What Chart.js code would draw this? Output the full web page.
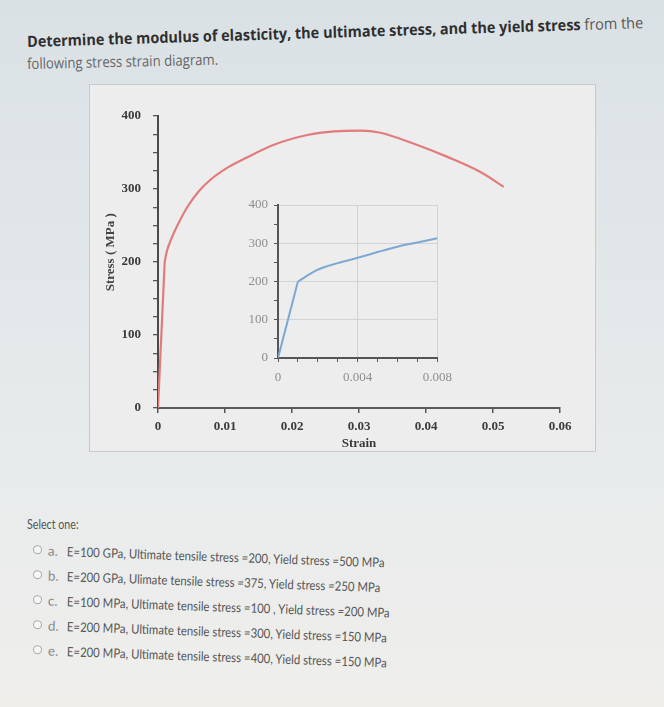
<!DOCTYPE html>
<html><head><meta charset="utf-8">
<script src="https://cdn.jsdelivr.net/npm/chart.js@4.4.1/dist/chart.umd.min.js"></script>
<style>
html,body{margin:0;padding:0;}
body{width:664px;height:707px;position:relative;overflow:hidden;
 background:linear-gradient(180deg,#dae1e5 0%,#e1e6e9 35%,#e9ecec 70%,#efeeeb 100%);
 font-family:"Open Sans","Noto Sans",sans-serif;}
.t{position:absolute;white-space:nowrap;transform-origin:0 50%;line-height:20px;height:20px;width:auto;}
#box{position:absolute;left:89px;top:84px;width:507px;height:368px;background:#ecedec;border:1px solid #c6caca;box-sizing:border-box;}
#main{position:absolute;left:89px;top:84px;}
#inset{position:absolute;left:240px;top:190px;}
.row{position:absolute;left:33px;width:620px;height:20px;line-height:20px;white-space:nowrap;transform-origin:0 50%;transform:rotate(2deg);font-family:Lato,"Open Sans",sans-serif;}
.radio{position:absolute;left:0;top:5px;width:7px;height:7px;border:1.5px solid #a6a8a8;border-radius:50%;background:#f6f6f6;}
.let{position:absolute;left:15px;top:0;color:#8a8a8a;font-size:13.5px;}
.txt{position:absolute;left:34px;top:0;color:#555;font-size:13px;display:inline-block;transform-origin:0 50%;}
</style></head><body>
<div class="t" id="l1" style="left:27px;top:31px;color:#555;font-size:15.5px;"><b style="color:#2f2f2f">Determine the modulus of elasticity, the ultimate stress, and the yield stress</b> from the</div>
<div class="t" id="l2" style="left:27px;top:53px;color:#666;font-size:15px;">following stress strain diagram.</div>
<div id="box"></div>
<canvas id="main" width="507" height="368"></canvas>
<canvas id="inset" width="220" height="200"></canvas>
<div class="t" id="sel" style="left:27px;top:514px;color:#555;font-size:14px;font-family:Lato,'Open Sans',sans-serif;">Select one:</div>
<div id="opts"></div>
<script>
// ---- data ----
const mainElasticStrain = [0, 0.001];
const mainElasticStress = [0, 200];
const mainPlasticStrain = [0.001, 0.0013, 0.002, 0.003, 0.0045, 0.006, 0.008, 0.0105, 0.013, 0.0174, 0.0223, 0.0263, 0.0303, 0.0332, 0.0382, 0.0432, 0.0482, 0.0516];
const mainPlasticStress = [200, 214, 232, 252, 277, 296, 314, 330, 342, 361, 374, 379, 380, 377, 362, 344, 323, 303];
const insetElasticStrain = [0, 0.001];
const insetElasticStress = [0, 200];
const insetPlasticStrain = [0.001, 0.002, 0.003, 0.004, 0.005, 0.006, 0.007, 0.008];
const insetPlasticStress = [200, 231, 248, 262, 277, 291, 302, 313];
const mainXLabels = ['0', '0.01', '0.02', '0.03', '0.04', '0.05', '0.06'];
const mainYLabels = ['0', '100', '200', '300', '400'];
const insetXLabels = ['0', '0.004', '0.008'];
const insetYLabels = ['0', '100', '200', '300', '400'];
const optionLetters = ['a.', 'b.', 'c.', 'd.', 'e.'];
const optionTexts = [
 'E=100 GPa, Ultimate tensile stress =200, Yield stress =500 MPa',
 'E=200 GPa, Ulimate tensile stress =375, Yield stress =250 MPa',
 'E=100 MPa, Ultimate tensile stress =100 , Yield stress =200 MPa',
 'E=200 MPa, Ultimate tensile stress =300, Yield stress =150 MPa',
 'E=200 MPa, Ultimate tensile stress =400, Yield stress =150 MPa'
];

const RED = '#e27b7d', BLUE = '#7ea8d2';
const pts = (xs, ys) => xs.map((x, i) => ({x, y: ys[i]}));
const serif = '"Liberation Serif","Times New Roman",serif';

// ---- main chart ----
new Chart(document.getElementById('main'), {
 type: 'scatter',
 data: {datasets: [
  {data: pts(mainElasticStrain, mainElasticStress), showLine: true, borderColor: RED, borderWidth: 2.2, pointRadius: 0, tension: 0},
  {data: pts(mainPlasticStrain, mainPlasticStress), showLine: true, borderColor: RED, borderWidth: 2.2, pointRadius: 0, cubicInterpolationMode: 'monotone'}
 ]},
 options: {
  responsive: false, animation: false, events: [],
  layout: {padding: {left: 0, right: 36, top: 32, bottom: 0}},
  plugins: {legend: {display: false}, tooltip: {enabled: false}},
  scales: {
   x: {type: 'linear', min: 0, max: 0.06,
    afterFit: s => { s.height = 44; },
    ticks: {stepSize: 0.01, autoSkip: false, maxRotation: 0, padding: 6, color: '#3a3a3a',
     font: {family: serif, weight: 'bold', size: 13},
     callback: (v, i) => mainXLabels[i]},
    grid: {drawOnChartArea: false, tickLength: 5, color: '#555', lineWidth: 1.5},
    border: {color: '#5a5a5a', width: 2},
    title: {display: true, text: 'Strain', color: '#3a3a3a', padding: {top: 0, bottom: 1},
     font: {family: serif, weight: 'bold', size: 13}}
   },
   y: {type: 'linear', min: 0, max: 400,
    afterFit: s => { s.width = 69; },
    ticks: {stepSize: 25, autoSkip: false, padding: 12, color: '#3a3a3a',
     font: {family: serif, weight: 'bold', size: 13},
     callback: (v) => (v % 100 === 0 ? mainYLabels[v / 100] : '')},
    grid: {drawOnChartArea: false, tickLength: 5, color: '#555', lineWidth: 1.3},
    border: {color: '#4a4a4a', width: 2},
    title: {display: true, text: '      Stress ( MPa )', color: '#444', padding: {top: 14, bottom: 0},
     font: {family: serif, weight: 'bold', size: 13}}
   }
  }
 }
});

// ---- inset chart ----
new Chart(document.getElementById('inset'), {
 type: 'scatter',
 data: {datasets: [
  {data: pts(insetElasticStrain, insetElasticStress), showLine: true, borderColor: BLUE, borderWidth: 2, pointRadius: 0, tension: 0},
  {data: pts(insetPlasticStrain, insetPlasticStress), showLine: true, borderColor: BLUE, borderWidth: 2, pointRadius: 0, cubicInterpolationMode: 'monotone'}
 ]},
 options: {
  responsive: false, animation: false, events: [],
  layout: {padding: {left: 0, right: 14, top: 15, bottom: 0}},
  plugins: {legend: {display: false}, tooltip: {enabled: false}},
  scales: {
   x: {type: 'linear', min: 0, max: 0.008,
    afterFit: s => { s.height = 32; },
    ticks: {stepSize: 0.001, autoSkip: false, maxRotation: 0, padding: 8, color: '#8e8e8e',
     font: {family: serif, size: 13},
     callback: (v, i) => (i % 4 === 0 ? insetXLabels[i / 4] : '')},
    grid: {drawOnChartArea: true, tickLength: 4, lineWidth: 1,
     color: c => (c.index % 4 === 0 && c.index > 0 ? '#d2d4d4' : 'rgba(0,0,0,0)'),
     tickColor: '#555'},
    border: {color: '#555', width: 2}
   },
   y: {type: 'linear', min: 0, max: 400,
    afterFit: s => { s.width = 38; },
    ticks: {stepSize: 50, autoSkip: false, padding: 6, color: '#8e8e8e',
     font: {family: serif, size: 13},
     callback: (v, i) => (i % 2 === 0 ? insetYLabels[i / 2] : '')},
    grid: {drawOnChartArea: true, tickLength: 4, lineWidth: 1,
     color: c => (c.index % 2 === 0 && c.index > 0 ? '#d2d4d4' : 'rgba(0,0,0,0)'),
     tickColor: '#555'},
    border: {color: '#555', width: 2}
   }
  }
 }
});

// ---- text ----
function squeeze(el, w, rot) {
 const s = w / el.offsetWidth;
 el.style.transform = (rot ? 'rotate(' + rot + 'deg) ' : '') + 'scaleX(' + s + ')';
}
squeeze(document.getElementById('l1'), 616, -1.75);
squeeze(document.getElementById('l2'), 191, -1.3);
squeeze(document.getElementById('sel'), 52, 0);
const opts = document.getElementById('opts');
const rowCenters = [550, 575, 600, 625, 650];
optionTexts.forEach((t, i) => {
 const r = document.createElement('div');
 r.className = 'row';
 r.style.top = (rowCenters[i] - 10) + 'px';
 r.innerHTML = '<span class="radio"></span><span class="let">' + optionLetters[i] + '</span><span class="txt">' + t + '</span>';
 opts.appendChild(r);
});
const txts = opts.querySelectorAll('.txt');
const sc = 318 / txts[0].offsetWidth;
txts.forEach(e => e.style.transform = 'scaleX(' + sc + ')');
</script>
</body></html>
